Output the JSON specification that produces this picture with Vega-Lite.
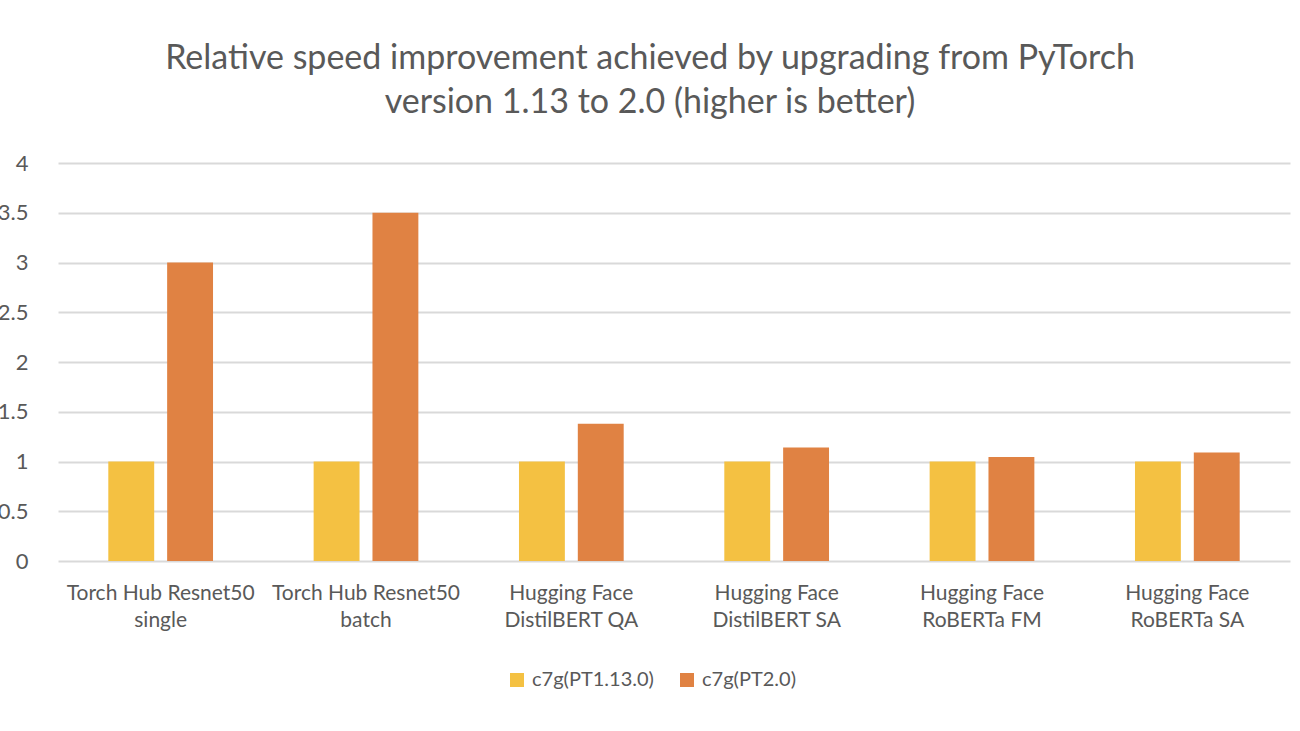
{
  "$schema": "https://vega.github.io/schema/vega-lite/v6.json",
  "width": 1232,
  "height": 398,
  "autosize": {"type": "none"},
  "padding": {"left": 58, "top": 163, "right": 10, "bottom": 170},
  "background": "white",
  "config": {
    "view": {"stroke": null},
    "font": "Lato",
    "axis": {"labelColor": "#595959", "labelFont": "Lato", "gridColor": "#D9D9D9", "gridWidth": 2}
  },
  "title": {
    "text": ["Relative speed improvement achieved by upgrading from PyTorch", "version 1.13 to 2.0 (higher is better)"],
    "fontSize": 34,
    "fontWeight": "normal",
    "color": "#595959",
    "font": "Lato",
    "lineHeight": 44,
    "anchor": "middle",
    "dx": -24,
    "offset": 32
  },
  "data": {
    "values": [
      {"benchmark": "Torch Hub Resnet50 single", "version": "c7g(PT1.13.0)", "speed": 1.0},
      {"benchmark": "Torch Hub Resnet50 single", "version": "c7g(PT2.0)", "speed": 3.0},
      {"benchmark": "Torch Hub Resnet50 batch", "version": "c7g(PT1.13.0)", "speed": 1.0},
      {"benchmark": "Torch Hub Resnet50 batch", "version": "c7g(PT2.0)", "speed": 3.5},
      {"benchmark": "Hugging Face DistilBERT QA", "version": "c7g(PT1.13.0)", "speed": 1.0},
      {"benchmark": "Hugging Face DistilBERT QA", "version": "c7g(PT2.0)", "speed": 1.38},
      {"benchmark": "Hugging Face DistilBERT SA", "version": "c7g(PT1.13.0)", "speed": 1.0},
      {"benchmark": "Hugging Face DistilBERT SA", "version": "c7g(PT2.0)", "speed": 1.14},
      {"benchmark": "Hugging Face RoBERTa FM", "version": "c7g(PT1.13.0)", "speed": 1.0},
      {"benchmark": "Hugging Face RoBERTa FM", "version": "c7g(PT2.0)", "speed": 1.045},
      {"benchmark": "Hugging Face RoBERTa SA", "version": "c7g(PT1.13.0)", "speed": 1.0},
      {"benchmark": "Hugging Face RoBERTa SA", "version": "c7g(PT2.0)", "speed": 1.09}
    ]
  },
  "mark": {"type": "bar"},
  "encoding": {
    "x": {
      "field": "benchmark",
      "type": "nominal",
      "sort": null,
      "scale": {"paddingInner": 0.49, "paddingOuter": 0.245},
      "axis": {
        "title": null,
        "labelAngle": 0,
        "domain": false,
        "ticks": false,
        "labelFontSize": 21,
        "labelLineHeight": 27,
        "labelPadding": 21,
        "labelLimit": 0,
        "labelExpr": "indexof(datum.label, 'Torch') == 0 ? [substring(datum.label, 0, 18), substring(datum.label, 19)] : [substring(datum.label, 0, 12), substring(datum.label, 13)]"
      }
    },
    "xOffset": {
      "field": "version",
      "type": "nominal",
      "scale": {"paddingInner": 0.22, "paddingOuter": 0}
    },
    "y": {
      "field": "speed",
      "type": "quantitative",
      "scale": {"domain": [0, 4], "nice": false},
      "axis": {
        "title": null,
        "values": [0, 0.5, 1, 1.5, 2, 2.5, 3, 3.5, 4],
        "domain": false,
        "ticks": false,
        "labelFontSize": 22,
        "labelPadding": 30,
        "labelExpr": "'' + datum.value"
      }
    },
    "color": {
      "field": "version",
      "type": "nominal",
      "scale": {"domain": ["c7g(PT1.13.0)", "c7g(PT2.0)"], "range": ["#F4C142", "#E08243"]},
      "legend": {
        "title": null,
        "orient": "none",
        "direction": "horizontal",
        "legendX": 449,
        "legendY": 507,
        "padding": 0,
        "symbolType": "square",
        "symbolSize": 196,
        "symbolStrokeWidth": 0,
        "labelFontSize": 20,
        "labelColor": "#595959",
        "labelFont": "Lato",
        "labelOffset": 5,
        "columnPadding": 23
      }
    }
  }
}
